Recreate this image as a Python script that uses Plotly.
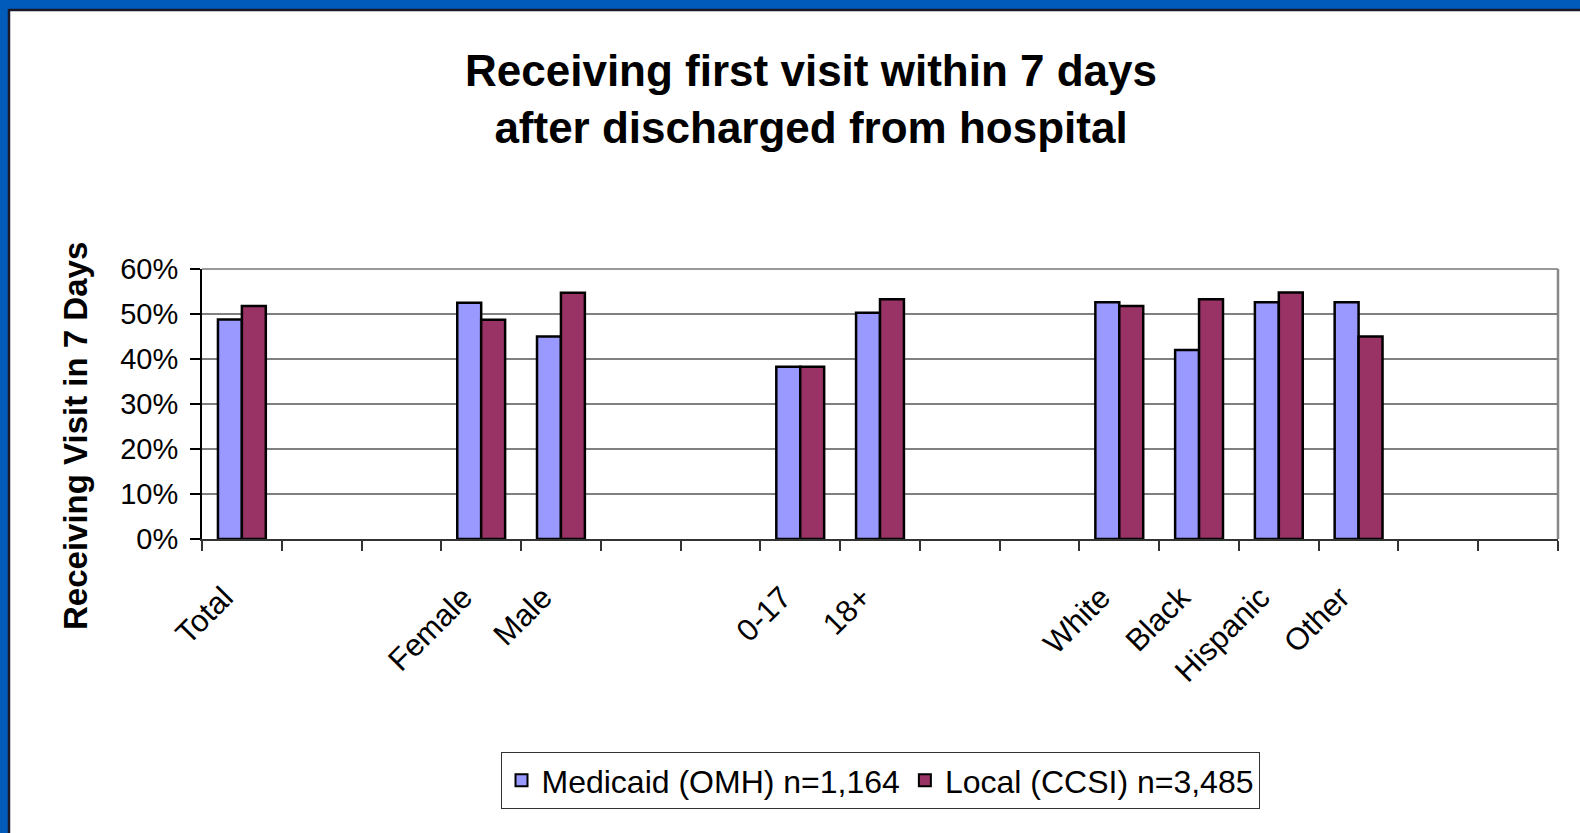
import plotly.graph_objects as go

# ---- data ----
categories = ["Total", " ", "  ", "Female", "Male", "   ", "    ", "0-17", "18+",
              "     ", "      ", "White", "Black", "Hispanic", "Other", "       ", "        "]
medicaid = [0.488, None, None, 0.525, 0.450, None, None, 0.383, 0.503, None, None,
            0.526, 0.420, 0.526, 0.526, None, None]
local = [0.518, None, None, 0.487, 0.547, None, None, 0.383, 0.533, None, None,
         0.518, 0.533, 0.548, 0.450, None, None]
series_names = ["Medicaid (OMH) n=1,164", "Local (CCSI) n=3,485"]
y_ticks = [0, 0.1, 0.2, 0.3, 0.4, 0.5, 0.6]

W, H = 1580, 833
L, R, T, B = 202, 1558, 269, 539
PW, PH = R - L, B - T


def px_x(px):
    return (px - L) / PW


def px_y(py):
    return (B - py) / PH


FONT = "Liberation Sans, Arial, sans-serif"

fig = go.Figure()
fig.add_trace(go.Bar(x=categories, y=medicaid, name=series_names[0],
                     marker=dict(color="#9999FF", line=dict(color="black", width=2.5))))
fig.add_trace(go.Bar(x=categories, y=local, name=series_names[1],
                     marker=dict(color="#993366", line=dict(color="black", width=2.5))))

fig.update_layout(
    width=W, height=H,
    margin=dict(l=L, r=W - R, t=T, b=H - B, autoexpand=False),
    paper_bgcolor="white", plot_bgcolor="white",
    barmode="group", bargap=0.4, bargroupgap=0,
    font=dict(family=FONT, color="black"),
    title=dict(text="<b>Receiving first visit within 7 days<br>after discharged from hospital</b>",
               font=dict(size=44, family=FONT, color="black"),
               x=811 / W, xanchor="center", xref="container",
               y=1 - 86 / H, yanchor="top", yref="container"),
    showlegend=True,
    legend=dict(orientation="h", x=0.5, xanchor="center", y=px_y(752), yanchor="top",
                font=dict(size=32, family=FONT), bordercolor="#333333", borderwidth=1,
                bgcolor="white", itemsizing="constant", traceorder="normal"),
)

fig.update_xaxes(
    type="category", categoryorder="array", categoryarray=categories,
    showgrid=False, showline=True, linecolor="#333333", linewidth=2,
    ticks="outside", ticklen=10, tickcolor="#333333", tickwidth=1.5,
    tickson="boundaries", tickangle=-45,
    tickfont=dict(size=31, family=FONT), ticklabelstandoff=26, ticklabelshift=-18,
)
fig.update_yaxes(
    range=[0, 0.6], tickvals=y_ticks, tickformat=".0%",
    showgrid=True, gridcolor="#808080", gridwidth=1.5,
    showline=True, linecolor="black", linewidth=2,
    ticks="outside", ticklen=10, tickcolor="black", tickwidth=1.5,
    tickfont=dict(size=29, family=FONT), ticklabelstandoff=6,
    zeroline=False,
)

shapes = [
    # plot-area top/right border (gray)
    dict(type="line", xref="paper", yref="paper", x0=0, x1=1, y0=1, y1=1,
         line=dict(color="#999999", width=2), layer="below"),
    dict(type="line", xref="paper", yref="paper", x0=1, x1=1, y0=0, y1=1,
         line=dict(color="#888888", width=2.5), layer="below"),
    # slide frame: blue left and top bands with dark inner line
    dict(type="rect", xref="paper", yref="paper", x0=px_x(0), x1=px_x(8), y0=px_y(H), y1=px_y(0),
         fillcolor="#005BBB", line=dict(width=0), layer="above"),
    dict(type="rect", xref="paper", yref="paper", x0=px_x(0), x1=px_x(W), y0=px_y(9), y1=px_y(0),
         fillcolor="#005BBB", line=dict(width=0), layer="above"),
    dict(type="line", xref="paper", yref="paper", x0=px_x(9), x1=px_x(9), y0=px_y(H), y1=px_y(9),
         line=dict(color="#1a1a2a", width=2.5), layer="above"),
    dict(type="line", xref="paper", yref="paper", x0=px_x(9), x1=px_x(W), y0=px_y(10), y1=px_y(10),
         line=dict(color="#1a1a2a", width=2.5), layer="above"),
]
fig.update_layout(shapes=shapes)

fig.add_annotation(text="<b>Receiving Visit in 7 Days</b>", textangle=-90,
                   xref="paper", yref="paper", x=px_x(75), y=px_y(436),
                   xanchor="center", yanchor="middle", showarrow=False,
                   font=dict(size=33, family=FONT, color="black"))

fig.write_html("out.html", config={"displayModeBar": False},
               post_script="document.body.style.margin='0';document.body.style.overflow='hidden';")
